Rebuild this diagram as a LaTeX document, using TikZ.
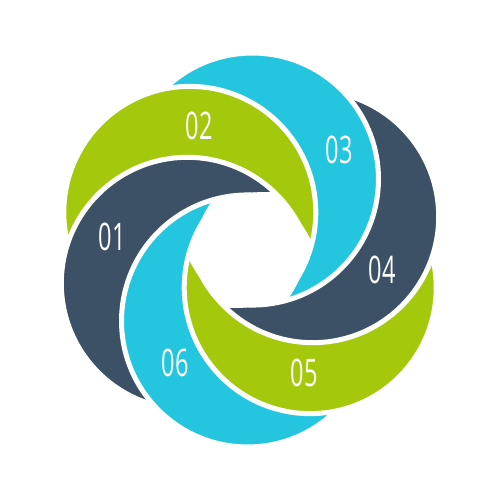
\documentclass[tikz,border=0pt]{standalone}
\usepackage{fontspec}
\newfontfamily\labelfont{Open Sans}[FakeStretch=0.62]
\definecolor{bdark}{HTML}{3D5166}
\definecolor{bgreen}{HTML}{A4C90C}
\definecolor{bcyan}{HTML}{24C6DF}
\begin{document}
\begin{tikzpicture}[x=1pt,y=-1pt,
  numlabel/.style={text=white,font=\labelfont\fontsize{38}{38}\selectfont,inner sep=0pt},
  gap/.style={white,line width=5pt}]
\useasboundingbox (0,0) rectangle (500,500);
\def\R{126}
\def\D{71}
\def\P{148}
\def\HR{136.7}
% circle centres (image coordinates, y downwards)
\foreach \k/\a in {1/60,2/0,3/-60,4/-120,5/-180,6/-240}{
  \coordinate (c\k) at ({250+\D*cos(\P+\a)},{250-\D*sin(\P+\a)});
}
% centres of the arcs that bound the central opening
\foreach \j/\a in {1/220,2/280,3/340,4/40,5/100,6/160}{
  \coordinate (h\j) at ({250+80*cos(\a)},{250-80*sin(\a)});
}
% fills: blade k = disk k minus disk k-1
\foreach \k/\p/\col in {1/6/bdark,2/1/bgreen,3/2/bcyan,4/3/bdark,5/4/bgreen,6/5/bcyan}{
  \begin{scope}[even odd rule]
    \clip (-20,-20) rectangle (520,520) (c\p) circle[radius=\R];
    \fill[\col] (c\k) circle[radius=\R];
  \end{scope}
}
% white gaps along each blade's outer edge
\foreach \k/\p in {1/6,2/1,3/2,4/3,5/4,6/5}{
  \begin{scope}[even odd rule]
    \clip (-20,-20) rectangle (520,520) (c\p) circle[radius=\R];
    \draw[gap] (c\k) circle[radius=\R];
  \end{scope}
}
% white gaps along the common inner part
\foreach \k/\a/\b/\c/\d/\e in {1/2/3/4/5/6,2/3/4/5/6/1,3/4/5/6/1/2,4/5/6/1/2/3,5/6/1/2/3/4,6/1/2/3/4/5}{
  \begin{scope}
    \clip (c\a) circle[radius=\R];
    \clip (c\b) circle[radius=\R];
    \clip (c\c) circle[radius=\R];
    \clip (c\d) circle[radius=\R];
    \clip (c\e) circle[radius=\R];
    \draw[gap] (c\k) circle[radius=\R];
  \end{scope}
}
% central opening
\begin{scope}
  \clip (h1) circle[radius=\HR];
  \clip (h2) circle[radius=\HR];
  \clip (h3) circle[radius=\HR];
  \clip (h4) circle[radius=\HR];
  \clip (h5) circle[radius=\HR];
  \clip (h6) circle[radius=\HR];
  \fill[white] (150,150) rectangle (350,350);
\end{scope}
\node[numlabel] (l1) at (112,237) {01};
\node[numlabel] (l2) at (199,126) {02};
\node[numlabel] (l3) at (339,150) {03};
\node[numlabel] (l4) at (382,270) {04};
\node[numlabel] (l5) at (304,373) {05};
\node[numlabel] (l6) at (175,363) {06};
\end{tikzpicture}
\end{document}
